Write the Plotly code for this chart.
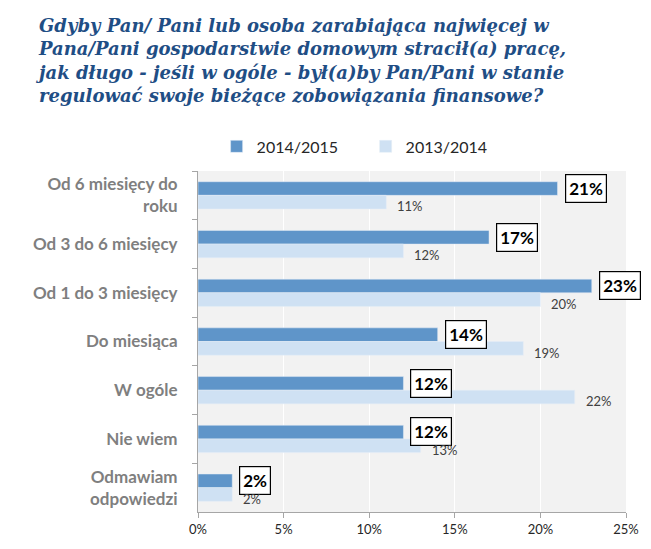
import plotly.graph_objects as go

title_lines = [
    "Gdyby Pan/ Pani lub osoba zarabiająca najwięcej w",
    "Pana/Pani gospodarstwie domowym stracił(a) pracę,",
    "jak długo - jeśli w ogóle - był(a)by Pan/Pani w stanie",
    "regulować swoje bieżące zobowiązania finansowe?",
]
categories = [
    "Od 6 miesięcy do<br>roku",
    "Od 3 do 6 miesięcy",
    "Od 1 do 3 miesięcy",
    "Do miesiąca",
    "W ogóle",
    "Nie wiem",
    "Odmawiam<br>odpowiedzi",
]
v_2014_2015 = [0.21, 0.17, 0.23, 0.14, 0.12, 0.12, 0.02]
v_2013_2014 = [0.11, 0.12, 0.20, 0.19, 0.22, 0.13, 0.02]

dark = "#5f95c9"
light = "#cfe1f3"

fig = go.Figure()
fig.add_trace(go.Bar(
    y=categories, x=v_2014_2015, orientation="h",
    name="2014/2015", marker_color=dark,
))
fig.add_trace(go.Bar(
    y=categories, x=v_2013_2014, orientation="h",
    name="2013/2014", marker_color=light,
))

# boxed labels for the newer series, plain ones for the older
annotations = []
for cat, v in zip(categories, v_2014_2015):
    annotations.append(dict(
        x=v, y=cat, text="<b>%d%%</b>" % round(v * 100),
        xanchor="left", yanchor="middle", xshift=7, yshift=7,
        showarrow=False, bordercolor="#000000", borderwidth=1.2,
        borderpad=3, bgcolor="#ffffff",
        font=dict(family="Lato", size=17, color="#000000"),
    ))
for cat, v in zip(categories, v_2013_2014):
    annotations.append(dict(
        x=v, y=cat, text="%d%%" % round(v * 100),
        xanchor="left", yanchor="middle", xshift=9, yshift=-11,
        showarrow=False,
        font=dict(family="Lato", size=13, color="#404040"),
    ))

# title as a left aligned annotation
annotations.append(dict(
    text="<b><i>" + "<br>".join(title_lines) + "</i></b>",
    xref="paper", yref="paper", x=-0.383, y=1.462,
    xanchor="left", yanchor="top", align="left", showarrow=False,
    font=dict(family="DejaVu Serif", size=18, color="#1f4e85"),
))

fig.update_layout(
    width=651, height=549,
    margin=dict(l=198, r=20, t=171, b=36),
    paper_bgcolor="#ffffff",
    plot_bgcolor="#f2f2f2",
    barmode="group",
    bargap=0.44,
    bargroupgap=0,
    legend=dict(
        orientation="h", x=0.0435, xanchor="left", y=1.072, yanchor="middle",
        font=dict(family="Lato", size=16, color="#262626"),
        itemwidth=30, entrywidth=104, traceorder="normal",
    ),
    annotations=annotations,
    xaxis=dict(
        range=[0, 0.25], dtick=0.05, tickformat=".0%",
        showgrid=True, gridcolor="#ffffff", gridwidth=1,
        showline=True, linecolor="#a6a6a6", ticks="outside",
        ticklen=5, tickcolor="#a6a6a6", zeroline=False,
        tickfont=dict(family="Lato", size=13, color="#262626"),
    ),
    yaxis=dict(
        autorange="reversed", showline=True, linecolor="#a6a6a6",
        ticks="outside", tickson="boundaries", ticklen=5,
        tickcolor="#a6a6a6", showgrid=False, ticklabelstandoff=16,
        tickfont=dict(family="Lato", size=17, color="#7f7f7f", weight="bold"),
    ),
)

# drop the browser's default page margin so the chart fills the window
fig.write_html(
    "out.html",
    config={"displayModeBar": False},
    post_script="document.body.style.margin='0';",
)
